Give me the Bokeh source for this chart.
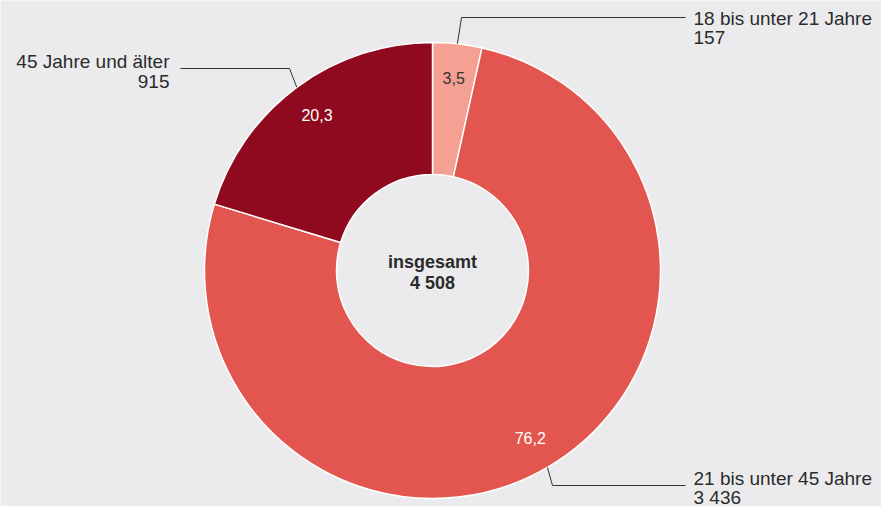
import math
from bokeh.plotting import figure
from bokeh.models import Range1d
from bokeh.embed import file_html
from bokeh.resources import INLINE
from bokeh.core.properties import value

# ---- data ----
categories = ["18 bis unter 21 Jahre", "21 bis unter 45 Jahre", "45 Jahre und älter"]
counts = [157, 3436, 915]
count_labels = ["157", "3 436", "915"]
percent_labels = ["3,5", "76,2", "20,3"]
total_title = "insgesamt"
total_label = "4 508"

# ---- style / layout ----
colors = ["#f4a193", "#e3554f", "#8f0a1e"]
pct_colors = ["#333333", "#ffffff", "#ffffff"]
BG = "#ebebee"
TXT = "#2b2b2b"
FONT = "Liberation Sans"

CX, CY = 432, -270
R_OUT, R_IN, R_LBL = 228, 96, 194
elbows = [(461, -17), (552, -485), (289, -68)]
line_ends = [685, 685, 180]
text_x = [693, 693, 169]
text_align = ["left", "left", "right"]
name_dy = [1, -7, -7]
val_dy = [20, 12, 13]

total = sum(counts)
fracs = [c / total for c in counts]
starts, ends, mids = [], [], []
cum = 0.0
for f in fracs:
    a0 = math.pi / 2 - 2 * math.pi * cum
    a1 = math.pi / 2 - 2 * math.pi * (cum + f)
    starts.append(a0)
    ends.append(a1)
    mids.append((a0 + a1) / 2)
    cum += f

p = figure(width=881, height=506, x_range=Range1d(0, 881), y_range=Range1d(-506, 0),
           output_backend="svg", toolbar_location=None, min_border=0)
p.axis.visible = False
p.grid.visible = False
p.outline_line_color = None
p.background_fill_color = BG
p.border_fill_color = BG

p.annular_wedge(x=CX, y=CY, inner_radius=R_IN, outer_radius=R_OUT,
                start_angle=starts, end_angle=ends, direction="clock",
                fill_color=colors, line_color="white", line_width=1.5)

# leader lines and outside labels
for i in range(len(counts)):
    ax = CX + R_OUT * math.cos(mids[i])
    ay = CY + R_OUT * math.sin(mids[i])
    ex, ey = elbows[i]
    p.line(x=[ax, ex, line_ends[i]], y=[ay, ey, ey], line_color="#333333", line_width=1)
    p.text(x=[text_x[i]], y=[ey - name_dy[i]], text=[categories[i]],
           text_font=value(FONT), text_font_size="19px", text_color=TXT,
           text_align=text_align[i], text_baseline="alphabetic")
    p.text(x=[text_x[i]], y=[ey - val_dy[i]], text=[count_labels[i]],
           text_font=value(FONT), text_font_size="19px", text_color=TXT,
           text_align=text_align[i], text_baseline="alphabetic")

# percent labels
px = [CX + R_LBL * math.cos(m) for m in mids]
py = [CY + R_LBL * math.sin(m) for m in mids]
p.text(x=px, y=py, text=percent_labels, text_font=value(FONT), text_font_size="16px",
       text_color=pct_colors, text_align="center", text_baseline="middle")

# center text
p.text(x=[CX, CX], y=[CY + 9, CY - 12], text=[total_title, total_label],
       text_font=value(FONT), text_font_size="18px", text_font_style="bold",
       text_color=TXT, text_align="center", text_baseline="alphabetic")

html = file_html(p, INLINE)
html = html.replace("<body>", '<body style="background:%s">' % BG, 1)
open("out.html", "w").write(html)
